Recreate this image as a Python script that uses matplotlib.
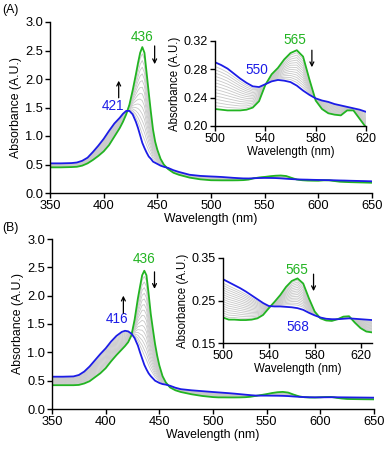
import numpy as np
import matplotlib
matplotlib.use('Agg')
import matplotlib.pyplot as plt

plt.rcParams['font.family'] = ['Liberation Sans', 'DejaVu Sans']

# wavelength grid (nm): Soret region and visible region
wl_uv = [350, 360, 370, 375, 380, 385, 390, 395, 400, 405,
         410, 415, 418, 421, 424, 427, 430, 432, 434, 436,
         438, 440, 442, 444, 446, 448, 450, 453, 456, 460,
         465, 470, 480, 490, 500]
wl_vis = [505, 510, 515, 520, 525, 530, 535, 540, 545, 550,
          555, 560, 565, 570, 575, 580, 585, 590, 595, 600,
          605, 610, 615, 620, 625, 630, 640, 650]

# panel A : start (green) and end (blue) spectra
a_green_uv = [0.45, 0.45, 0.455, 0.46, 0.48, 0.52, 0.58, 0.65, 0.73, 0.84,
              0.99, 1.14, 1.25, 1.38, 1.55, 1.80, 2.08, 2.28, 2.46, 2.56,
              2.46, 2.11, 1.76, 1.42, 1.11, 0.90, 0.76, 0.60, 0.50, 0.42,
              0.355, 0.32, 0.27, 0.24, 0.224]
a_blue_uv = [0.52, 0.52, 0.525, 0.535, 0.565, 0.62, 0.72, 0.83, 0.95, 1.09,
             1.22, 1.32, 1.39, 1.44, 1.44, 1.38, 1.25, 1.14, 1.01, 0.88,
             0.79, 0.71, 0.64, 0.60, 0.55, 0.53, 0.51, 0.48, 0.46, 0.44,
             0.40, 0.37, 0.32, 0.30, 0.29]
a_green_vis = [0.223, 0.222, 0.222, 0.222, 0.223, 0.226, 0.235, 0.258, 0.273, 0.282,
               0.294, 0.303, 0.307, 0.298, 0.266, 0.236, 0.224, 0.218, 0.216, 0.215,
               0.222, 0.222, 0.210, 0.198, 0.194, 0.190, 0.185, 0.180]
a_blue_vis = [0.286, 0.281, 0.274, 0.267, 0.261, 0.256, 0.255, 0.259, 0.263, 0.265,
              0.264, 0.262, 0.257, 0.250, 0.244, 0.239, 0.236, 0.234, 0.231, 0.229,
              0.227, 0.225, 0.223, 0.220, 0.218, 0.215, 0.210, 0.205]

# panel B
b_green_uv = [0.42, 0.42, 0.42, 0.425, 0.45, 0.49, 0.56, 0.63, 0.72, 0.84,
              0.95, 1.05, 1.11, 1.18, 1.30, 1.58, 1.95, 2.16, 2.36, 2.44,
              2.36, 2.04, 1.68, 1.41, 1.15, 0.94, 0.77, 0.58, 0.47, 0.38,
              0.33, 0.30, 0.26, 0.23, 0.21]
b_blue_uv = [0.57, 0.57, 0.575, 0.60, 0.66, 0.75, 0.86, 0.97, 1.07, 1.19,
             1.29, 1.36, 1.38, 1.37, 1.33, 1.25, 1.12, 1.00, 0.89, 0.78,
             0.70, 0.63, 0.58, 0.54, 0.50, 0.48, 0.46, 0.44, 0.43, 0.41,
             0.375, 0.35, 0.33, 0.315, 0.30]
b_green_vis = [0.205, 0.205, 0.204, 0.204, 0.205, 0.208, 0.216, 0.232, 0.247, 0.263,
               0.282, 0.296, 0.302, 0.290, 0.255, 0.224, 0.208, 0.203, 0.202, 0.206,
               0.212, 0.213, 0.198, 0.185, 0.177, 0.175, 0.172, 0.170]
b_blue_vis = [0.293, 0.286, 0.279, 0.271, 0.262, 0.253, 0.244, 0.237, 0.236, 0.236,
              0.235, 0.234, 0.232, 0.228, 0.221, 0.215, 0.210, 0.207, 0.206, 0.206,
              0.207, 0.208, 0.207, 0.206, 0.205, 0.204, 0.202, 0.200]

# progress of the titration for the intermediate (grey) traces
gray_frac_a = [0.07, 0.14, 0.21, 0.28, 0.35, 0.42, 0.49, 0.56, 0.63, 0.70, 0.77, 0.84, 0.91]
gray_frac_b = [0.06, 0.12, 0.18, 0.24, 0.30, 0.36, 0.42, 0.48, 0.54, 0.60, 0.66, 0.72, 0.78, 0.84, 0.90]

GREEN = '#22b422'
BLUE = '#1c1ce6'
GRAY = '#c8c8c8'

W, H = 387, 451


def rect(l, r, t, b):
    return [l / W, 1 - b / H, (r - l) / W, (b - t) / H]


def style(ax, fs):
    for s in ['top', 'right']:
        ax.spines[s].set_visible(False)
    for s in ['left', 'bottom']:
        ax.spines[s].set_linewidth(1.0)
    ax.tick_params(direction='out', length=3.5, width=1.0, labelsize=fs, pad=1.5)


def draw(ax, wl, green, blue, fracs):
    for f in fracs:
        ax.plot(wl, green + f * (blue - green), color=GRAY, lw=0.6)
    ax.plot(wl, green, color=GREEN, lw=1.3)
    ax.plot(wl, blue, color=BLUE, lw=1.3)


def arrow(ax, x, y0, y1):
    ax.annotate('', xy=(x, y1), xytext=(x, y0),
                arrowprops=dict(arrowstyle='->', color='black', lw=0.9,
                                shrinkA=0, shrinkB=0, mutation_scale=7))


fig = plt.figure(figsize=(W / 100, H / 100), dpi=100)
wl = np.array(wl_uv + wl_vis, dtype=float)

panels = [
    dict(tag='(A)', green=a_green_uv + a_green_vis, blue=a_blue_uv + a_blue_vis, fr=gray_frac_a,
         main=(50, 372, 22, 193), ins=(215, 366, 41, 126), ixlim=(500, 620),
         iylim=(0.20, 0.32), iyt=[0.20, 0.24, 0.28, 0.32], tagy=10,
         lab_main=[('436', GREEN, 436, 2.74), ('421', BLUE, 409, 1.53)],
         arr_main=[(414, 1.67, 1.97), (447.5, 2.58, 2.26)],
         lab_ins=[('565', GREEN, 563.5, 0.322), ('550', BLUE, 533, 0.279)],
         arr_ins=[(577, 0.307, 0.283)]),
    dict(tag='(B)', green=b_green_uv + b_green_vis, blue=b_blue_uv + b_blue_vis, fr=gray_frac_b,
         main=(52, 374, 239, 409), ins=(223, 372, 258, 343), ixlim=(500, 630),
         iylim=(0.15, 0.35), iyt=[0.15, 0.25, 0.35], tagy=228,
         lab_main=[('436', GREEN, 435.5, 2.64), ('416', BLUE, 411, 1.58)],
         arr_main=[(416.5, 1.69, 2.0), (445.5, 2.42, 2.12)],
         lab_ins=[('565', GREEN, 564.5, 0.322), ('568', BLUE, 565.5, 0.188)],
         arr_ins=[(579, 0.312, 0.272)]),
]

for p in panels:
    green = np.array(p['green'])
    blue = np.array(p['blue'])

    ax = fig.add_axes(rect(*p['main']))
    draw(ax, wl, green, blue, p['fr'])
    ax.set_xlim(350, 650)
    ax.set_ylim(0, 3.0)
    ax.set_xticks([350, 400, 450, 500, 550, 600, 650])
    ax.set_yticks([0.0, 0.5, 1.0, 1.5, 2.0, 2.5, 3.0])
    ax.yaxis.set_major_formatter(matplotlib.ticker.FormatStrFormatter('%.1f'))
    style(ax, 9.3)
    ax.set_xlabel('Wavelength (nm)', fontsize=8.8, labelpad=1)
    ax.set_ylabel('Absorbance (A.U.)', fontsize=8.8, labelpad=2)
    for txt, c, x, y in p['lab_main']:
        ax.text(x, y, txt, color=c, fontsize=9.8, ha='center', va='center')
    for x, y0, y1 in p['arr_main']:
        arrow(ax, x, y0, y1)
    fig.text(2 / W, 1 - p['tagy'] / H, p['tag'], fontsize=8.8, va='center', ha='left')

    ia = fig.add_axes(rect(*p['ins']))
    ia.patch.set_alpha(0)
    mask = wl >= 495
    draw(ia, wl[mask], green[mask], blue[mask], p['fr'])
    ia.set_xlim(*p['ixlim'])
    ia.set_ylim(*p['iylim'])
    ia.set_xticks([500, 540, 580, 620])
    ia.set_yticks(p['iyt'])
    ia.yaxis.set_major_formatter(matplotlib.ticker.FormatStrFormatter('%.2f'))
    style(ia, 9)
    ia.set_xlabel('Wavelength (nm)', fontsize=8.3, labelpad=0.5)
    ia.set_ylabel('Absorbance (A.U.)', fontsize=8.3, labelpad=2)
    for txt, c, x, y in p['lab_ins']:
        ia.text(x, y, txt, color=c, fontsize=9.8, ha='center', va='center', clip_on=False)
    for x, y0, y1 in p['arr_ins']:
        arrow(ia, x, y0, y1)

fig.savefig('out.png', dpi=100)
